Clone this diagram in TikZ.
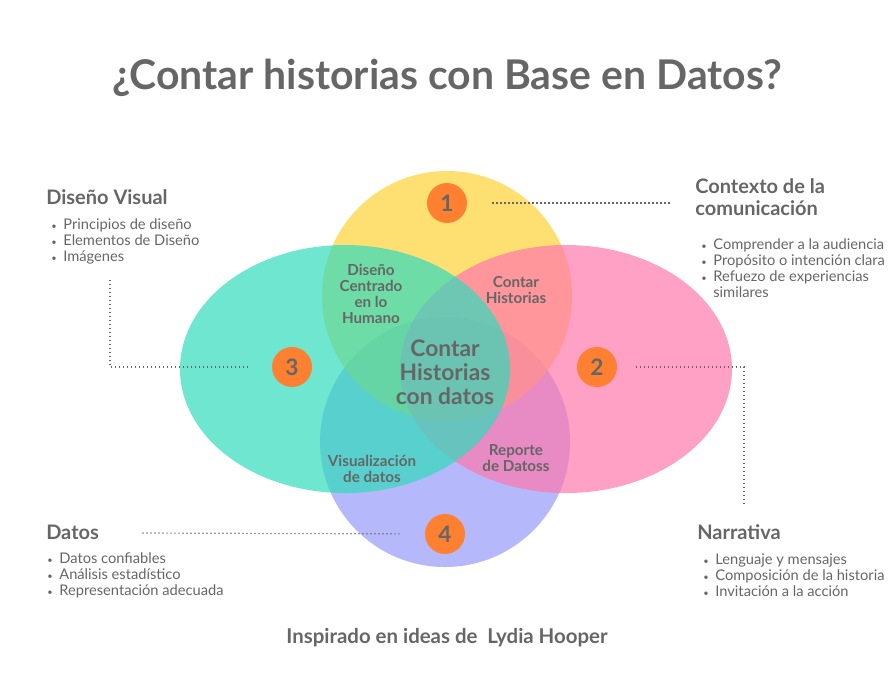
\documentclass[tikz,border=0pt]{standalone}
\usepackage{fontspec}
\setmainfont{Lato}
\usepackage{tikz}
\usetikzlibrary{positioning}
\usepackage{xcolor}
\definecolor{txtgray}{HTML}{666666}
\definecolor{numorange}{HTML}{FF8030}
\definecolor{vyellow}{RGB}{254,211,54}
\definecolor{vteal}{RGB}{48,219,188}
\definecolor{vpink}{RGB}{255,119,172}
\definecolor{vpurple}{RGB}{149,154,249}
\newcommand{\dotitem}{{\fontsize{7}{7}\selectfont•}\hspace{5pt}}

\begin{document}
\begin{tikzpicture}[x=0.75pt, y=-0.75pt,
    blob/.style={draw=none, fill opacity=0.7},
    numdot/.style={circle, fill=numorange, minimum size=30pt, inner sep=0pt, text=txtgray, font=\bfseries\fontsize{17}{17}\selectfont},
    heading/.style={anchor=base west, inner sep=0pt, text=txtgray, align=left, font=\bfseries\fontsize{15}{16.5}\selectfont},
    itemlist/.style={anchor=base west, inner sep=0pt, text=txtgray, align=left, font=\fontsize{11}{12}\selectfont},
    venntxt/.style={align=center, inner sep=0pt, text=txtgray, font=\bfseries\fontsize{11.4}{12}\selectfont},
    dots/.style={draw=txtgray, line width=0.9pt, dash pattern=on 0.9pt off 2.1pt}]
    \useasboundingbox (0,0) rectangle (895,694);
    % the four sets
    \fill[blob, vpurple] (445,442) circle (125);
    \fill[blob, vyellow] (447,296) circle (125);
    \fill[blob, vpink] (566,369) ellipse (166 and 124);
    \fill[blob, vteal] (345,369) ellipse (165 and 124);
    % title
    \node (title) at (447,78) [text=txtgray, font=\bfseries\fontsize{30.7}{34}\selectfont] {¿Contar historias con Base en Datos?};
    % labels inside the diagram
    \node (dch) at (371,294) [venntxt] {Diseño\\Centrado\\en lo\\Humano};
    \node (ch) at (516,290) [venntxt] {Contar\\Historias};
    \node (chd) at (445,372) [venntxt, font=\bfseries\fontsize{17.1}{18}\selectfont] {Contar\\Historias\\con datos};
    \node (vd) at (372,469) [venntxt] {Visualización\\de datos};
    \node (rd) at (516,458) [venntxt] {Reporte\\de Datoss};
    % numbers
    \node (n1) at (447,203) [numdot] {1};
    \node (n2) at (597,367) [numdot] {2};
    \node (n3) at (292,367) [numdot] {3};
    \node (n4) at (445,534) [numdot] {4};
    % side texts
    \node (dv) at (46,204) [heading] {Diseño Visual};
    \node (dvl) at (51,261) [itemlist] {\dotitem Principios de diseño\\\dotitem Elementos de Diseño\\\dotitem Imágenes};
    \node (cc) at (695,215) [heading] {Contexto de la\\comunicación};
    \node (ccl) at (701,297) [itemlist] {\dotitem Comprender a la audiencia\\\dotitem Propósito o intención clara\\\dotitem Refuezo de experiencias\\\phantom{\dotitem}similares};
    \node (da) at (46,539) [heading] {Datos};
    \node (dal) at (47,595) [itemlist] {\dotitem Datos confiables\\\dotitem Análisis estadístico\\\dotitem Representación adecuada};
    \node (na) at (697,539) [heading] {Narrativa};
    \node (nal) at (703,596) [itemlist] {\dotitem Lenguaje y mensajes\\\dotitem Composición de la historia\\\dotitem Invitación a la acción};
    \node (src) at (447,638) [text=txtgray, font=\bfseries\fontsize{15.3}{17}\selectfont] {Inspirado en ideas de\ \ Lydia Hooper};
    % dotted leaders
    \coordinate (e1) at (670,203);
    \coordinate (k2) at (744,367);
    \coordinate (e2) at (744,504);
    \coordinate (k3) at (110,367);
    \coordinate (e3) at (110,278);
    \coordinate (e4) at (140,533);
    \draw[dots, shorten <=34pt] (n1.center) -- (e1);
    \draw[dots, shorten <=29pt] (n2.center) -- (k2) -- (e2);
    \draw[dots, shorten <=33pt] (n3.center) -- (k3) -- (e3);
    \draw[dots, shorten <=34pt] (n4.center) -- (e4);
\end{tikzpicture}
\end{document}
